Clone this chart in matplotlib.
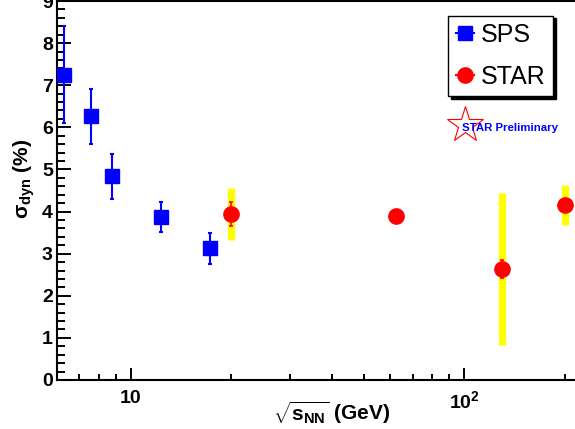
import matplotlib
matplotlib.use("Agg")

import matplotlib.pyplot as plt
from matplotlib.lines import Line2D
from matplotlib.ticker import FixedLocator, FuncFormatter, LogLocator, MultipleLocator

plt.rcParams.update({
    "font.family": ["Liberation Sans", "DejaVu Sans"],
    "font.weight": "bold",
    "mathtext.fontset": "custom",
    "mathtext.rm": "Liberation Sans:bold",
    "mathtext.it": "Liberation Sans:bold",
    "mathtext.bf": "Liberation Sans:bold",
    "mathtext.sf": "Liberation Sans:bold",
})

# ── data ─────────────────────────────────────
sps_energy = [6.3, 7.6, 8.8, 12.3, 17.3]
sps_sigma = [7.25, 6.26, 4.84, 3.87, 3.13]
sps_err = [1.15, 0.65, 0.53, 0.35, 0.37]

star_energy = [20.0, 62.4, 130.0, 200.0]
star_sigma = [3.94, 3.90, 2.63, 4.15]
star_stat = [0.28, 0.05, 0.21, 0.05]
star_sys = [0.62, 0.12, 1.81, 0.47]

# ── figure ───────────────────────────────────
fig = plt.figure(figsize=(5.75, 4.29), dpi=100)
ax = fig.add_axes([57 / 575, 49 / 429, 518 / 575, 379 / 429])

# systematic bands (yellow)
ax.errorbar(star_energy, star_sigma, yerr=star_sys, fmt="none",
            ecolor="#ffff00", elinewidth=5.2, capsize=0, zorder=1)

# SPS
ax.errorbar(sps_energy, sps_sigma, yerr=sps_err, fmt="s", color="#0000ff",
            markersize=10.5, elinewidth=1.5, capsize=1.6, capthick=1.5, zorder=3)

# STAR
ax.errorbar(star_energy, star_sigma, yerr=star_stat, fmt="o", color="#ff0000",
            markersize=11, elinewidth=1.2, capsize=1.6, capthick=1.2, zorder=4)

ax.set_xscale("log")
ax.set_xlim(6.0, 215)
ax.set_ylim(0, 9)

ax.xaxis.set_major_locator(FixedLocator([10, 100]))
ax.xaxis.set_minor_locator(LogLocator(base=10, subs=range(2, 10), numticks=20))
ax.xaxis.set_minor_formatter(FuncFormatter(lambda v, p: ""))
ax.xaxis.set_major_formatter(
    FuncFormatter(lambda v, p: "10" if v < 50 else r"$10^{2}$"))
ax.yaxis.set_major_locator(MultipleLocator(1))
ax.yaxis.set_minor_locator(MultipleLocator(0.2))

ax.tick_params(axis="both", which="both", direction="in", top=False, right=False,
               width=1.4, labelsize=14)
ax.tick_params(axis="y", which="major", length=10, pad=3)
ax.tick_params(axis="y", which="minor", length=5.8)
ax.tick_params(axis="x", which="major", length=8.6, pad=7)
ax.tick_params(axis="x", which="minor", length=4.5)
for lab in ax.get_xticklabels() + ax.get_yticklabels():
    lab.set_fontweight("bold")

for side in ("left", "bottom", "top"):
    ax.spines[side].set_linewidth(1.5)
ax.spines["right"].set_visible(False)

ax.set_xlabel(r"$\sqrt{s_{NN}}$ (GeV)", fontsize=15, fontweight="bold")
ax.xaxis.set_label_coords(0.53, -0.05)
ax.set_ylabel(r"$\sigma_{dyn}$ (%)", fontsize=15, fontweight="bold")
ax.yaxis.set_label_coords(-0.038, 0.53)

# legend
handles = [
    Line2D([], [], color="#0000ff", marker="s", markersize=10, linewidth=1.5),
    Line2D([], [], color="#ff0000", marker="o", markersize=11, linewidth=1.5),
]
leg = ax.legend(handles, ["SPS", "STAR"], loc="upper left",
                bbox_to_anchor=((448 - 57) / 518, (380 - 15.7) / 379),
                fontsize=18, frameon=True, fancybox=False, edgecolor="black",
                shadow={"color": "black", "alpha": 1.0},
                handlelength=0.75, handletextpad=0.25, borderpad=0.3,
                labelspacing=0.7, borderaxespad=0)
leg.get_frame().set_linewidth(1.0)
for t in leg.get_texts():
    t.set_fontweight("normal")

# STAR Preliminary stamp
ax.plot([(465 - 57) / 518], [(380 - 125) / 379], transform=ax.transAxes,
        marker="*", markersize=27, markerfacecolor="none",
        markeredgecolor="#ff0000", markeredgewidth=0.8, linestyle="none",
        clip_on=False, zorder=5)
ax.text((462 - 57) / 518, (380 - 128) / 379, "STAR Preliminary",
        transform=ax.transAxes, color="#0000ff", fontsize=8.2,
        fontweight="bold", ha="left", va="center", zorder=6)

fig.savefig("out.png", dpi=100)
